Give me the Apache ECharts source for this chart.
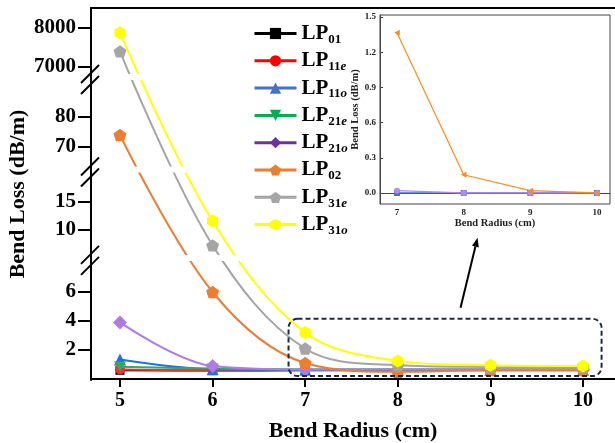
<!doctype html>
<html>
<head>
<meta charset="utf-8">
<style>html,body{margin:0;padding:0;background:#fff}#main{width:615px;height:443px}</style>
</head>
<body>
<div id="main"></div>
<script src="https://cdn.jsdelivr.net/npm/echarts@6.0.0/dist/echarts.min.js"></script>
<script>
var chart = echarts.init(document.getElementById('main'));
var serif = "'Times New Roman', 'Liberation Serif', serif";

// main chart data (bend loss in dB/m)
var radius = [5, 6, 7, 8, 9, 10];
var lp01 = [0.6, 0.58, 0.6, 0.6, 0.6, 0.6];
var lp11e = [0.65, 0.6, 0.62, 0.62, 0.62, 0.62];
var lp11o = [1.35, 0.68, 0.64, 0.64, 0.64, 0.64];
var lp21e = [0.85, 0.72, 0.66, 0.66, 0.66, 0.66];
var lp21o = [3.9, 0.9, 0.66, 0.66, 0.66, 0.66];
var lp02 = [74, 6.0, 1.1, 0.5, 0.62, 0.62];
var lp31e = [7400, 7.9, 2.1, 0.95, 0.83, 0.8];
var lp31o = [7880, 11.6, 3.2, 1.25, 0.95, 0.9];
var yTicks = [2, 4, 6, 10, 15, 70, 80, 7000, 8000];

// inset data
var insetRadius = [7, 8, 9, 10];
var insetTicks = [0, 0.3, 0.6, 0.9, 1.2, 1.5];
var insetLp02 = [1.365, 0.155, 0.02, 0];
var insetLp21o = [0.02, 0, 0, 0];
var insetLp11o = [0, 0, 0, 0];

var names = ['LP01', 'LP11e', 'LP11o', 'LP21e', 'LP21o', 'LP02', 'LP31e', 'LP31o'];
var values = [lp01, lp11e, lp11o, lp21e, lp21o, lp02, lp31e, lp31o];
var colors = ['#000000', '#ff2a2a', '#1f6fe5', '#2eaa64', '#b07ae6', '#ed7d31', '#a5a5a5', '#ffff00'];
var legendColors = ['#000000', '#ff0000', '#4472c4', '#00b050', '#7030a0', '#ed7d31', '#a5a5a5', '#ffff00'];
var pentagon = 'path://M0,-10L9.51,-3.09L5.88,8.09L-5.88,8.09L-9.51,-3.09Z';
var hexagon = 'path://M0,-10L8.66,-5L8.66,5L0,10L-8.66,5L-8.66,-5Z';
var downTri = 'path://M-10,-8L10,-8L0,9Z';
var leftTri = 'path://M-9,0L8,-9L8,9Z';
var symbols = ['rect', 'circle', 'triangle', downTri, 'diamond', pentagon, pentagon, hexagon];
var sizes = [9, 10, 12, 12, 14, 13, 13, 13];

// broken y axis: value -> axis position, piecewise linear
var knots = [[0, 0], [7.2, 104.4], [8, 137.8], [20, 205], [64, 214], [92, 298], [6850, 306.15], [9000, 390]];
var gaps = [[1, 2], [3, 4], [5, 6]];
function toAxis(v) {
    for (var i = 1; i < knots.length; i++) {
        if (v <= knots[i][0] || i === knots.length - 1) {
            var a = knots[i - 1], b = knots[i];
            return a[1] + (v - a[0]) * (b[1] - a[1]) / (b[0] - a[0]);
        }
    }
}
var tickPos = yTicks.map(toAxis);

var series = names.map(function (n, k) {
    return {
        name: n,
        type: 'line',
        xAxisIndex: 0,
        yAxisIndex: 0,
        data: radius.map(function (r, i) { return [r, toAxis(values[k][i])]; }),
        symbol: symbols[k],
        symbolSize: sizes[k],
        symbolKeepAspect: true,
        smooth: 0.35,
        color: colors[k],
        lineStyle: { width: 2, color: colors[k] },
        itemStyle: { color: colors[k] },
        z: 2 + k * 0.01
    };
});

var inset = [
    { name: 'i11o', data: insetLp11o, color: '#3d6fe0', symbol: 'rect' },
    { name: 'i21o', data: insetLp21o, color: '#b58ae8', symbol: 'circle' },
    { name: 'i02', data: insetLp02, color: '#ff8a1f', symbol: leftTri }
];
inset.forEach(function (s) {
    series.push({
        name: s.name,
        type: 'line',
        xAxisIndex: 2,
        yAxisIndex: 1,
        data: insetRadius.map(function (r, i) { return [r, s.data[i]]; }),
        symbol: s.symbol,
        symbolSize: 6,
        symbolKeepAspect: true,
        color: s.color,
        lineStyle: { width: 1.2, color: s.color },
        itemStyle: { color: s.color }
    });
});

chart.setOption({
    animation: false,
    grid: [
        { left: 91, top: 8, right: 0, bottom: 63, outerBoundsMode: 'none' },
        { left: 380, top: 15, width: 230, height: 189, show: true, borderColor: '#444', borderWidth: 1, outerBoundsMode: 'none' }
    ],
    legend: {
        orient: 'vertical',
        left: 248,
        top: 18,
        itemWidth: 42,
        itemHeight: 14,
        itemGap: 4.3,
        lineStyle: { width: 3 },
        data: names.map(function (n, k) {
            return { name: n, itemStyle: { color: legendColors[k] }, lineStyle: { color: legendColors[k], width: 3 } };
        }),
        formatter: function (name) {
            var sub = name.slice(2);
            var d = sub.replace(/[eo]$/, '');
            var l = sub.slice(d.length);
            return '{m|LP}{s|' + d + '}' + (l ? '{i|' + l + '}' : '');
        },
        textStyle: {
            rich: {
                m: { fontSize: 21, fontWeight: 'bold', fontFamily: serif, color: '#000' },
                s: { fontSize: 13, fontWeight: 'bold', fontFamily: serif, color: '#000', padding: [12, 0, 0, 0] },
                i: { fontSize: 13, fontWeight: 'bold', fontStyle: 'italic', fontFamily: serif, color: '#000', padding: [12, 0, 0, 0] }
            }
        }
    },
    xAxis: [
        {
            type: 'value', gridIndex: 0, min: 4.687, max: 10.345,
            name: 'Bend Radius (cm)', nameLocation: 'middle', nameGap: 40,
            nameTextStyle: { fontSize: 22, fontWeight: 'bold', fontFamily: serif, color: '#000' },
            axisLine: { lineStyle: { color: '#000', width: 2 } },
            axisTick: { show: true, length: 8, lineStyle: { color: '#000', width: 2 }, customValues: radius },
            axisLabel: { customValues: radius, fontSize: 20, fontWeight: 'bold', fontFamily: serif, color: '#000', margin: 11 },
            splitLine: { show: false }
        },
        {
            type: 'value', gridIndex: 0, position: 'top', min: 4.687, max: 10.345,
            axisLine: { lineStyle: { color: '#000', width: 2 } },
            axisTick: { show: false }, axisLabel: { show: false }, splitLine: { show: false }
        },
        {
            type: 'value', gridIndex: 1, min: 6.745, max: 10.195,
            name: 'Bend Radius (cm)', nameLocation: 'middle', nameGap: 12,
            nameTextStyle: { fontSize: 10.5, fontWeight: 'bold', fontFamily: serif, color: '#222' },
            axisLine: { lineStyle: { color: '#444', width: 1 } },
            axisTick: { show: true, length: 3, customValues: insetRadius, lineStyle: { color: '#444' } },
            axisLabel: { customValues: insetRadius, fontSize: 9, fontWeight: 'bold', fontFamily: serif, color: '#222', margin: 4 },
            splitLine: { show: false }
        }
    ],
    yAxis: [
        {
            type: 'value', gridIndex: 0, min: -1, max: 371,
            name: 'Bend Loss (dB/m)', nameLocation: 'middle', nameGap: 62, nameMoveOverlap: false,
            nameTextStyle: { fontSize: 22, fontWeight: 'bold', fontFamily: serif, color: '#000' },
            axisLine: { show: true, lineStyle: { color: '#000', width: 2 } },
            axisTick: { show: true, length: 13, lineStyle: { color: '#000', width: 2 }, customValues: tickPos },
            axisLabel: {
                customValues: tickPos, fontSize: 21, fontWeight: 'bold', fontFamily: serif, color: '#000', margin: 15,
                formatter: function (v) {
                    for (var i = 0; i < tickPos.length; i++) {
                        if (Math.abs(tickPos[i] - v) < 0.01) return String(yTicks[i]);
                    }
                    return '';
                }
            },
            splitLine: { show: false }
        },
        {
            type: 'value', gridIndex: 1, min: -0.094, max: 1.517,
            name: 'Bend Loss (dB/m)', nameLocation: 'middle', nameGap: 16,
            nameTextStyle: { fontSize: 10.5, fontWeight: 'bold', fontFamily: serif, color: '#222' },
            axisLine: { show: true, lineStyle: { color: '#444', width: 1 } },
            axisTick: { show: true, inside: true, length: 3, customValues: insetTicks, lineStyle: { color: '#444' } },
            axisLabel: {
                customValues: insetTicks, fontSize: 9, fontWeight: 'bold', fontFamily: serif, color: '#222', margin: 4,
                formatter: function (v) { return v.toFixed(1); }
            },
            splitLine: { show: false }
        }
    ],
    series: series
});

// breaks, zoom box and arrow placed from axis coordinates
var graphics = [];
gaps.forEach(function (g) {
    var mid = (knots[g[0]][1] + knots[g[1]][1]) / 2;
    var p = chart.convertToPixel({ xAxisIndex: 0, yAxisIndex: 0 }, [5, mid]);
    var y = p[1];
    graphics.push({ type: 'rect', z: 3, silent: true, shape: { x: 93, y: y - 3, width: 200, height: 6 }, style: { fill: '#fff' } });
    [-3, 8].forEach(function (o) {
        graphics.push({ type: 'line', z: 10, silent: true, shape: { x1: 81, y1: y + o + 9, x2: 99, y2: y + o - 9 }, style: { stroke: '#000', lineWidth: 2 } });
    });
});
var b0 = chart.convertToPixel({ xAxisIndex: 0, yAxisIndex: 0 }, [6.82, toAxis(4.15)]);
var b1 = chart.convertToPixel({ xAxisIndex: 0, yAxisIndex: 0 }, [10.2, toAxis(0.2)]);
graphics.push({
    type: 'rect', z: 20, silent: true,
    shape: { x: b0[0], y: b0[1], width: b1[0] - b0[0], height: b1[1] - b0[1], r: 9 },
    style: { fill: 'none', stroke: '#1c2a4a', lineWidth: 2, lineDash: [5, 3] }
});
var a0 = [b0[0] + 172, b0[1] - 11];
var a1 = [b0[0] + 189, b0[1] - 81];
var ang = Math.atan2(a1[1] - a0[1], a1[0] - a0[0]);
var hl = 9, hw = 3.5;
var bx = a1[0] - hl * Math.cos(ang), by = a1[1] - hl * Math.sin(ang);
graphics.push({ type: 'line', z: 20, silent: true, shape: { x1: a0[0], y1: a0[1], x2: bx, y2: by }, style: { stroke: '#000', lineWidth: 2 } });
graphics.push({
    type: 'polygon', z: 20, silent: true,
    shape: { points: [a1, [bx - hw * Math.sin(ang), by + hw * Math.cos(ang)], [bx + hw * Math.sin(ang), by - hw * Math.cos(ang)]] },
    style: { fill: '#000' }
});
chart.setOption({ graphic: graphics });

window.onresize = chart.resize;
</script>
</body>
</html>
